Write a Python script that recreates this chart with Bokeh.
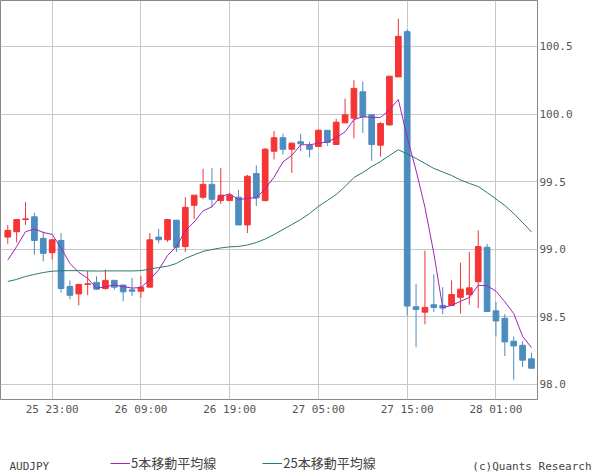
from bokeh.plotting import figure
from bokeh.models import (Range1d, FixedTicker, Legend, LegendItem,
                          ColumnDataSource, NumeralTickFormatter)
from bokeh.layouts import column
from bokeh.core.properties import value
from bokeh.embed import file_html
from bokeh.resources import INLINE

# ---------------- data (AUDJPY hourly candles) ----------------
opens = [99.09, 99.13, 99.22, 99.24, 99.08, 98.975, 99.065, 98.725, 98.67, 98.74,
         98.755, 98.71, 98.77, 98.735, 98.70, 98.69, 98.72, 99.09, 99.07, 99.215,
         99.02, 99.325, 99.385, 99.48, 99.36, 99.36, 99.385, 99.18, 99.56, 99.36,
         99.725, 99.825, 99.74, 99.795, 99.77, 99.76, 99.88, 99.775, 99.935, 99.97,
         100.165, 99.995, 99.77, 99.92, 100.275, 100.61, 98.575, 98.535, 98.59, 98.585,
         98.585, 98.645, 98.665, 98.76, 99.015, 98.545, 98.49, 98.32, 98.29, 98.19]
highs = [99.18, 99.225, 99.35, 99.27, 99.13, 99.075, 99.12, 98.77, 98.745, 98.84,
         98.80, 98.85, 98.775, 98.74, 98.79, 98.80, 99.12, 99.15, 99.22, 99.215,
         99.385, 99.40, 99.595, 99.60, 99.60, 99.415, 99.44, 99.55, 99.62, 99.75,
         99.875, 99.855, 99.79, 99.855, 99.795, 99.89, 99.88, 99.965, 100.115, 100.25,
         100.24, 100.0, 99.94, 100.28, 100.705, 100.625, 98.745, 98.99, 98.815, 98.72,
         98.77, 98.90, 98.98, 99.14, 99.04, 98.61, 98.52, 98.355, 98.32, 98.235]
lows = [99.04, 99.05, 99.18, 98.96, 98.91, 98.925, 98.68, 98.63, 98.585, 98.66,
        98.70, 98.70, 98.70, 98.615, 98.655, 98.64, 98.72, 99.045, 99.055, 98.98,
        98.98, 99.225, 99.37, 99.31, 99.335, 99.36, 99.18, 99.12, 99.32, 99.355,
        99.665, 99.70, 99.565, 99.725, 99.68, 99.76, 99.765, 99.775, 99.935, 99.82,
        99.86, 99.655, 99.685, 99.915, 100.275, 98.51, 98.275, 98.445, 98.535, 98.52,
        98.585, 98.525, 98.59, 98.565, 98.54, 98.355, 98.21, 98.035, 98.13, 98.12]
closes = [99.14, 99.22, 99.225, 99.065, 98.97, 99.07, 98.71, 98.66, 98.74, 98.745,
          98.705, 98.77, 98.72, 98.685, 98.69, 98.72, 99.07, 99.07, 99.22, 99.015,
          99.31, 99.40, 99.48, 99.37, 99.40, 99.40, 99.18, 99.54, 99.38, 99.74,
          99.825, 99.74, 99.785, 99.78, 99.74, 99.88, 99.79, 99.94, 99.995, 100.19,
          99.98, 99.775, 99.93, 100.28, 100.575, 98.58, 98.555, 98.57, 98.57, 98.565,
          98.665, 98.705, 98.715, 99.02, 98.54, 98.47, 98.315, 98.285, 98.18, 98.12]
ma5 = [98.92, 99.02, 99.13, 99.15, 99.125, 99.11, 99.01, 98.895, 98.83, 98.785,
       98.712, 98.723, 98.736, 98.724, 98.713, 98.717, 98.777, 98.847, 98.955, 99.02,
       99.137, 99.202, 99.284, 99.314, 99.391, 99.41, 99.366, 99.378, 99.38, 99.448,
       99.533, 99.646, 99.694, 99.773, 99.773, 99.784, 99.794, 99.825, 99.869, 99.959,
       99.98, 99.976, 99.975, 100.031, 100.108, 99.827, 99.583, 99.311, 98.97, 98.568,
       98.585, 98.615, 98.644, 98.734, 98.73, 98.69, 98.612, 98.525, 98.357, 98.273]
ma25 = [98.762, 98.777, 98.799, 98.814, 98.828, 98.838, 98.841, 98.842, 98.842, 98.840,
        98.839, 98.840, 98.840, 98.840, 98.840, 98.842, 98.854, 98.865, 98.875, 98.895,
        98.932, 98.959, 98.984, 98.998, 99.010, 99.018, 99.021, 99.032, 99.050, 99.076,
        99.109, 99.146, 99.183, 99.220, 99.265, 99.317, 99.361, 99.405, 99.464, 99.531,
        99.568, 99.612, 99.649, 99.694, 99.736, 99.705, 99.672, 99.635, 99.598, 99.572,
        99.546, 99.513, 99.487, 99.464, 99.420, 99.372, 99.324, 99.265, 99.198, 99.128]
tick_index = [5, 15, 25, 35, 45, 55]
tick_labels = ["25 23:00", "26 09:00", "26 19:00", "27 05:00", "27 15:00", "28 01:00"]
price_ticks = [98.0, 98.5, 99.0, 99.5, 100.0, 100.5]
symbol = "AUDJPY"
ma_names = ["5本移動平均線", "25本移動平均線"]
credit = "(c)Quants Research"

# ---------------- style ----------------
RED = "#f53434"
BLUE = "#4d8cbf"
PURPLE = "#a024b8"
TEAL = "#2a7a70"
GRID = "#c8c8c8"
TXT = "#555555"
MONO = "DejaVu Sans Mono"

n = len(opens)
xs = list(range(n))
colors = [RED if c >= o else BLUE for o, c in zip(opens, closes)]
tops = [max(o, c) for o, c in zip(opens, closes)]
bots = [min(o, c) for o, c in zip(opens, closes)]
src = ColumnDataSource(dict(x=xs, high=highs, low=lows, top=tops, bottom=bots, color=colors))

p = figure(frame_width=537, frame_height=399, output_backend="svg", toolbar_location=None,
           x_range=Range1d(-0.82, 59.68), y_range=Range1d(97.889, 100.840),
           y_axis_location="right",
           min_border_left=0, min_border_top=0, min_border_right=63, min_border_bottom=21)
p.background_fill_color = "white"
p.border_fill_color = "white"
p.outline_line_color = "#888888"
p.outline_line_width = 1

p.segment(x0="x", y0="high", x1="x", y1="low", line_color="color", line_width=1, source=src)
p.vbar(x="x", width=0.64, top="top", bottom="bottom", fill_color="color",
       line_color="color", line_width=1, source=src)
p.line(xs, ma5, line_color=PURPLE, line_width=1)
p.line(xs, ma25, line_color=TEAL, line_width=1)

xt = FixedTicker(ticks=tick_index)
p.xaxis.ticker = xt
p.xaxis.major_label_overrides = {i: s for i, s in zip(tick_index, tick_labels)}
p.xgrid.ticker = xt
yt = FixedTicker(ticks=price_ticks)
p.yaxis.ticker = yt
p.ygrid.ticker = yt
p.yaxis.formatter = NumeralTickFormatter(format="0.0")
for g in (p.xgrid, p.ygrid):
    g.grid_line_color = GRID
    g.grid_line_width = 1
for ax in (p.xaxis, p.yaxis):
    ax.axis_line_color = None
    ax.major_tick_line_color = None
    ax.minor_tick_line_color = None
    ax.major_tick_out = 0
    ax.major_tick_in = 0
    ax.minor_tick_out = 0
    ax.minor_tick_in = 0
    ax.major_label_text_font = MONO
    ax.major_label_text_font_size = "11px"
    ax.major_label_text_color = TXT
p.xaxis.major_label_standoff = 3
p.yaxis.major_label_standoff = 2

# ---------------- footer: symbol, legend, credit ----------------
f = figure(frame_width=600, frame_height=55, output_backend="svg", toolbar_location=None,
           x_range=Range1d(0, 600), y_range=Range1d(0, 55),
           min_border_left=0, min_border_right=0, min_border_top=0, min_border_bottom=0)
f.axis.visible = False
f.grid.visible = False
f.outline_line_color = None
f.background_fill_color = "white"
f.border_fill_color = "white"
# legend sample renderers (their data lie outside this footer's view)
d5 = f.line(xs, ma5, line_color=PURPLE, line_width=1)
d25 = f.line(xs, ma25, line_color=TEAL, line_width=1)
legend = Legend(items=[LegendItem(label=ma_names[0], renderers=[d5]),
                       LegendItem(label=ma_names[1], renderers=[d25])],
                location=(110, 3), orientation="horizontal",
                glyph_width=20, glyph_height=16, label_standoff=1, spacing=46,
                padding=0, margin=0, border_line_color=None, background_fill_alpha=0,
                label_text_font="Noto Sans CJK JP", label_text_font_size="13px",
                label_text_color="#444444", label_height=16)
f.add_layout(legend)
f.text(x=[9], y=[9], text=[symbol], text_baseline="middle", text_align="left",
       text_font=value(MONO), text_font_size="11px", text_color="#444444")
f.text(x=[591], y=[9], text=[credit], text_baseline="middle", text_align="right",
       text_font=value(MONO), text_font_size="11px", text_color="#444444")

layout = column(p, f, spacing=0)
open("out.html", "w").write(file_html(layout, INLINE))
